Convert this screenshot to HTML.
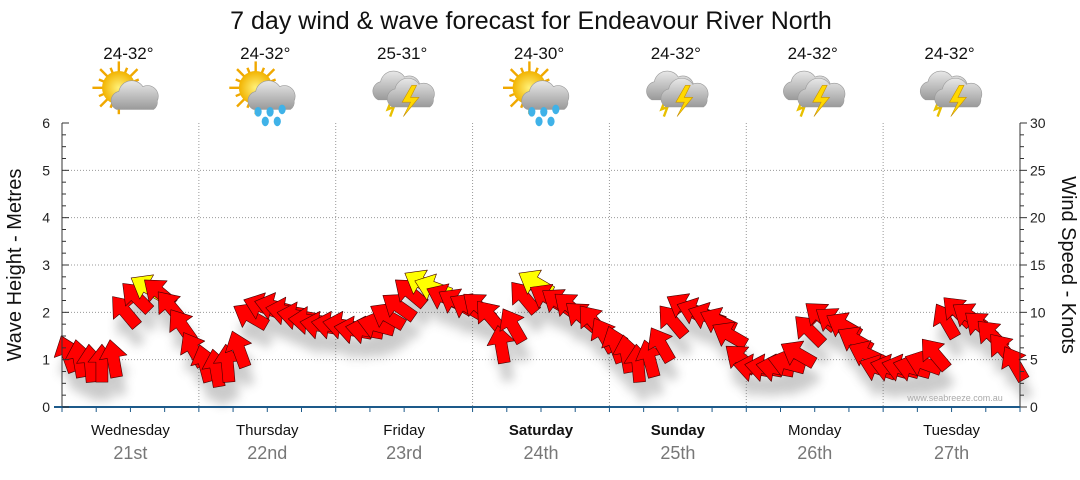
<!DOCTYPE html>
<html><head><meta charset="utf-8">
<style>
body{margin:0;background:#fff;}
svg text{font-family:"Liberation Sans",sans-serif;}
</style></head>
<body>
<svg id="chart" width="1080" height="475" viewBox="0 0 1080 475" xmlns="http://www.w3.org/2000/svg">
<defs>
<filter id="sh" x="-50%" y="-50%" width="200%" height="200%"><feGaussianBlur stdDeviation="5"/></filter>
<radialGradient id="sun" cx="50%" cy="50%" r="50%"><stop offset="0" stop-color="#fff27a"/><stop offset="1" stop-color="#f2b300"/></radialGradient>
<linearGradient id="cloud" x1="0" y1="0" x2="0" y2="1"><stop offset="0" stop-color="#e8e8e8"/><stop offset="1" stop-color="#9a9a9a"/></linearGradient>
</defs>
<text x="531" y="29" font-size="25" text-anchor="middle" fill="#111">7 day wind &amp; wave forecast for Endeavour River North</text>
<g id="grid"></g>
<g id="icons"></g>
<g id="shadows" filter="url(#sh)" opacity="0.3"></g>
<g id="arrows"></g>
<g id="axes"></g>
<text x="955" y="401" font-size="9" text-anchor="middle" fill="#aaa">www.seabreeze.com.au</text>
<text transform="translate(21,265) rotate(-90)" font-size="20" text-anchor="middle" fill="#111">Wave Height - Metres</text>
<text transform="translate(1062,265) rotate(90)" font-size="20" text-anchor="middle" fill="#111">Wind Speed - Knots</text>
</svg>
<script>
const days=["Wednesday","Thursday","Friday","Saturday","Sunday","Monday","Tuesday"];
const dates=["21st","22nd","23rd","24th","25th","26th","27th"];
const boldDays=[false,false,false,true,true,false,false];
const temps=["24-32°","24-32°","25-31°","24-30°","24-32°","24-32°","24-32°"];
const weather=["sun-cloud","sun-rain","storm","sun-rain","storm","storm","storm"];
const waveTicks=[0,1,2,3,4,5,6];
const windTicks=[0,5,10,15,20,25,30];
// wind speed (knots), every 2 hours, 12 per day
const windSpeed=[5,4.5,4,4,4.5,9.5,11,12,11.5,10,8,5.5,
4,3.5,4,5.5,9,10,10,9.5,9,8.5,8,8,
8,7.5,7.5,8,9,10,11.5,12.5,12,11,10.5,10,
10,9,6,8,11,12.5,11,10.5,10,9,8.5,7,
6,5,4,4.5,6,8.5,10,9.5,9,8.5,7,4.5,
3.5,3.5,3.5,4,5,7.5,9,8.5,8,6.5,5,3.5,
3.5,3.5,3.5,4,5,8.5,9.5,9,8,7,5.5,4];
// direction the arrow points (degrees clockwise from up)
const windDir=[340,350,355,0,350,320,315,300,310,320,325,330,
345,350,355,340,300,290,285,280,280,275,280,280,
280,280,280,285,300,305,310,300,290,295,300,300,
310,320,350,330,320,300,300,305,310,310,320,330,
340,350,355,345,330,320,300,290,290,295,300,310,
280,280,280,285,300,315,310,305,300,300,295,290,
285,285,285,290,320,330,315,305,310,315,320,330];

const X0=62,X1=1020,Y0=407,Y1=123,N=7;
const dayW=(X1-X0)/N;
const ns="http://www.w3.org/2000/svg";
function el(t,a,p){const e=document.createElementNS(ns,t);for(const k in a)e.setAttribute(k,a[k]);p.appendChild(e);return e;}
const xDay=d=>X0+d*dayW;
const yWave=v=>Y0-(v/6)*(Y0-Y1);
const yWind=v=>Y0-(v/30)*(Y0-Y1);
const xTime=i=>X0+(i+0.5)*dayW/12;

const grid=document.getElementById('grid'),axes=document.getElementById('axes');
waveTicks.forEach(v=>{if(v>0&&v<6){const l=el('line',{x1:X0,x2:X1,y1:yWave(v),y2:yWave(v),stroke:'#999','stroke-dasharray':'1,2'},grid);

}});
for(let d=1;d<N;d++){const l=el('line',{x1:xDay(d),x2:xDay(d),y1:Y1,y2:Y0,stroke:'#999','stroke-dasharray':'1,2'},grid);

}
el('line',{x1:X0,x2:X0,y1:Y1,y2:Y0,stroke:'#333'},axes);
el('line',{x1:X1,x2:X1,y1:Y1,y2:Y0,stroke:'#333'},axes);
el('line',{x1:X0-8,x2:X1,y1:Y0,y2:Y0,stroke:'#1d5a8a','stroke-width':2},axes);
for(let i=0;i<=24;i++){const y=Y0-i*(Y0-Y1)/24;const len=i%4==0?7:4;
el('line',{x1:X0,x2:X0+len,y1:y,y2:y,stroke:'#333'},axes);el('line',{x1:X1,x2:X1+len,y1:y,y2:y,stroke:'#333'},axes);}
for(let i=0;i<=28;i++){const x=X0+i*dayW/4;el('line',{x1:x,x2:x,y1:Y0,y2:Y0+5,stroke:'#1d5a8a'},axes);}
waveTicks.forEach(v=>{const t=el('text',{x:X0-12,y:yWave(v)+5,'font-size':14,'text-anchor':'end',fill:'#222'},axes);t.textContent=v;

});
windTicks.forEach(v=>{const t=el('text',{x:X1+10,y:yWind(v)+5,'font-size':14,fill:'#222'},axes);t.textContent=v;

});
days.forEach((d,i)=>{const cx=xDay(i)+dayW/2;
const t=el('text',{x:cx,y:435,'font-size':15,'text-anchor':'middle',fill:'#111','font-weight':boldDays[i]?'bold':'normal'},axes);t.textContent=d;


const t2=el('text',{x:cx,y:459,'font-size':18,'text-anchor':'middle',fill:'#777'},axes);t2.textContent=dates[i];


const t3=el('text',{x:cx-2,y:59,'font-size':17,'text-anchor':'middle',fill:'#111'},axes);t3.textContent=temps[i];

});

const icons=document.getElementById('icons');
function cloud(g,x,y,s){el('path',{d:`M${x-16*s},${y+10*s} a8 8 0 0 1 2,-15 a11 11 0 0 1 20,-4 a9 9 0 0 1 12,12 a7 7 0 0 1 -3,7 z`,fill:'url(#cloud)',stroke:'#999','stroke-width':0.5},g);}
weather.forEach((w,i)=>{const cx=xDay(i)+dayW/2-2,cy=95;const g=el('g',{transform:`translate(${cx},${cy}) scale(1.2) translate(${-cx},${-cy})`},icons);


if(w!=='storm'){for(let k=0;k<16;k++){const a=k*Math.PI/8;el('line',{x1:cx-8+Math.cos(a)*12,y1:cy-6+Math.sin(a)*12,x2:cx-8+Math.cos(a)*(k%2?18:22),y2:cy-6+Math.sin(a)*(k%2?18:22),stroke:'#f0a800','stroke-width':2},g);}
el('circle',{cx:cx-8,cy:cy-6,r:14,fill:'url(#sun)'},g);cloud(g,cx+6,cy+2,1);
if(w==='sun-rain'){[[0,14],[10,14],[20,12],[6,22],[16,22]].forEach(p=>el('ellipse',{cx:cx-6+p[0],cy:cy+p[1],rx:3,ry:4,fill:'#3fb2e8'},g));}}
else{cloud(g,cx-4,cy-6,1);el('path',{d:`M${cx-8},${cy+2} l-4,10 l5,-2 l-3,8`,stroke:'#e8c000','stroke-width':2,fill:'none'},g);cloud(g,cx+8,cy,1);
el('path',{d:`M${cx+8},${cy-8} l-8,14 h7 l-6,12 l13,-16 h-7 l5,-10 z`,fill:'#ffd800',stroke:'#c89000','stroke-width':0.5},g);}});

const ag=document.getElementById('arrows'),sg=document.getElementById('shadows');
const shape="M0,-19 L14,-1 L6,-1 L6,19 L-6,19 L-6,-1 L-14,-1 Z";
windSpeed.forEach((v,i)=>{const x=xTime(i),y=yWind(v)-6;
el('path',{d:shape,fill:'#555',transform:`translate(${x+4},${y+18}) rotate(${windDir[i]})`},sg);
const a=el('path',{d:shape,fill:v>=12?'#ffff00':'#ff0000',stroke:'#400','stroke-width':0.6,'stroke-linejoin':'round',transform:`translate(${x},${y}) rotate(${windDir[i]})`},ag);

});
</script>
</body></html>
